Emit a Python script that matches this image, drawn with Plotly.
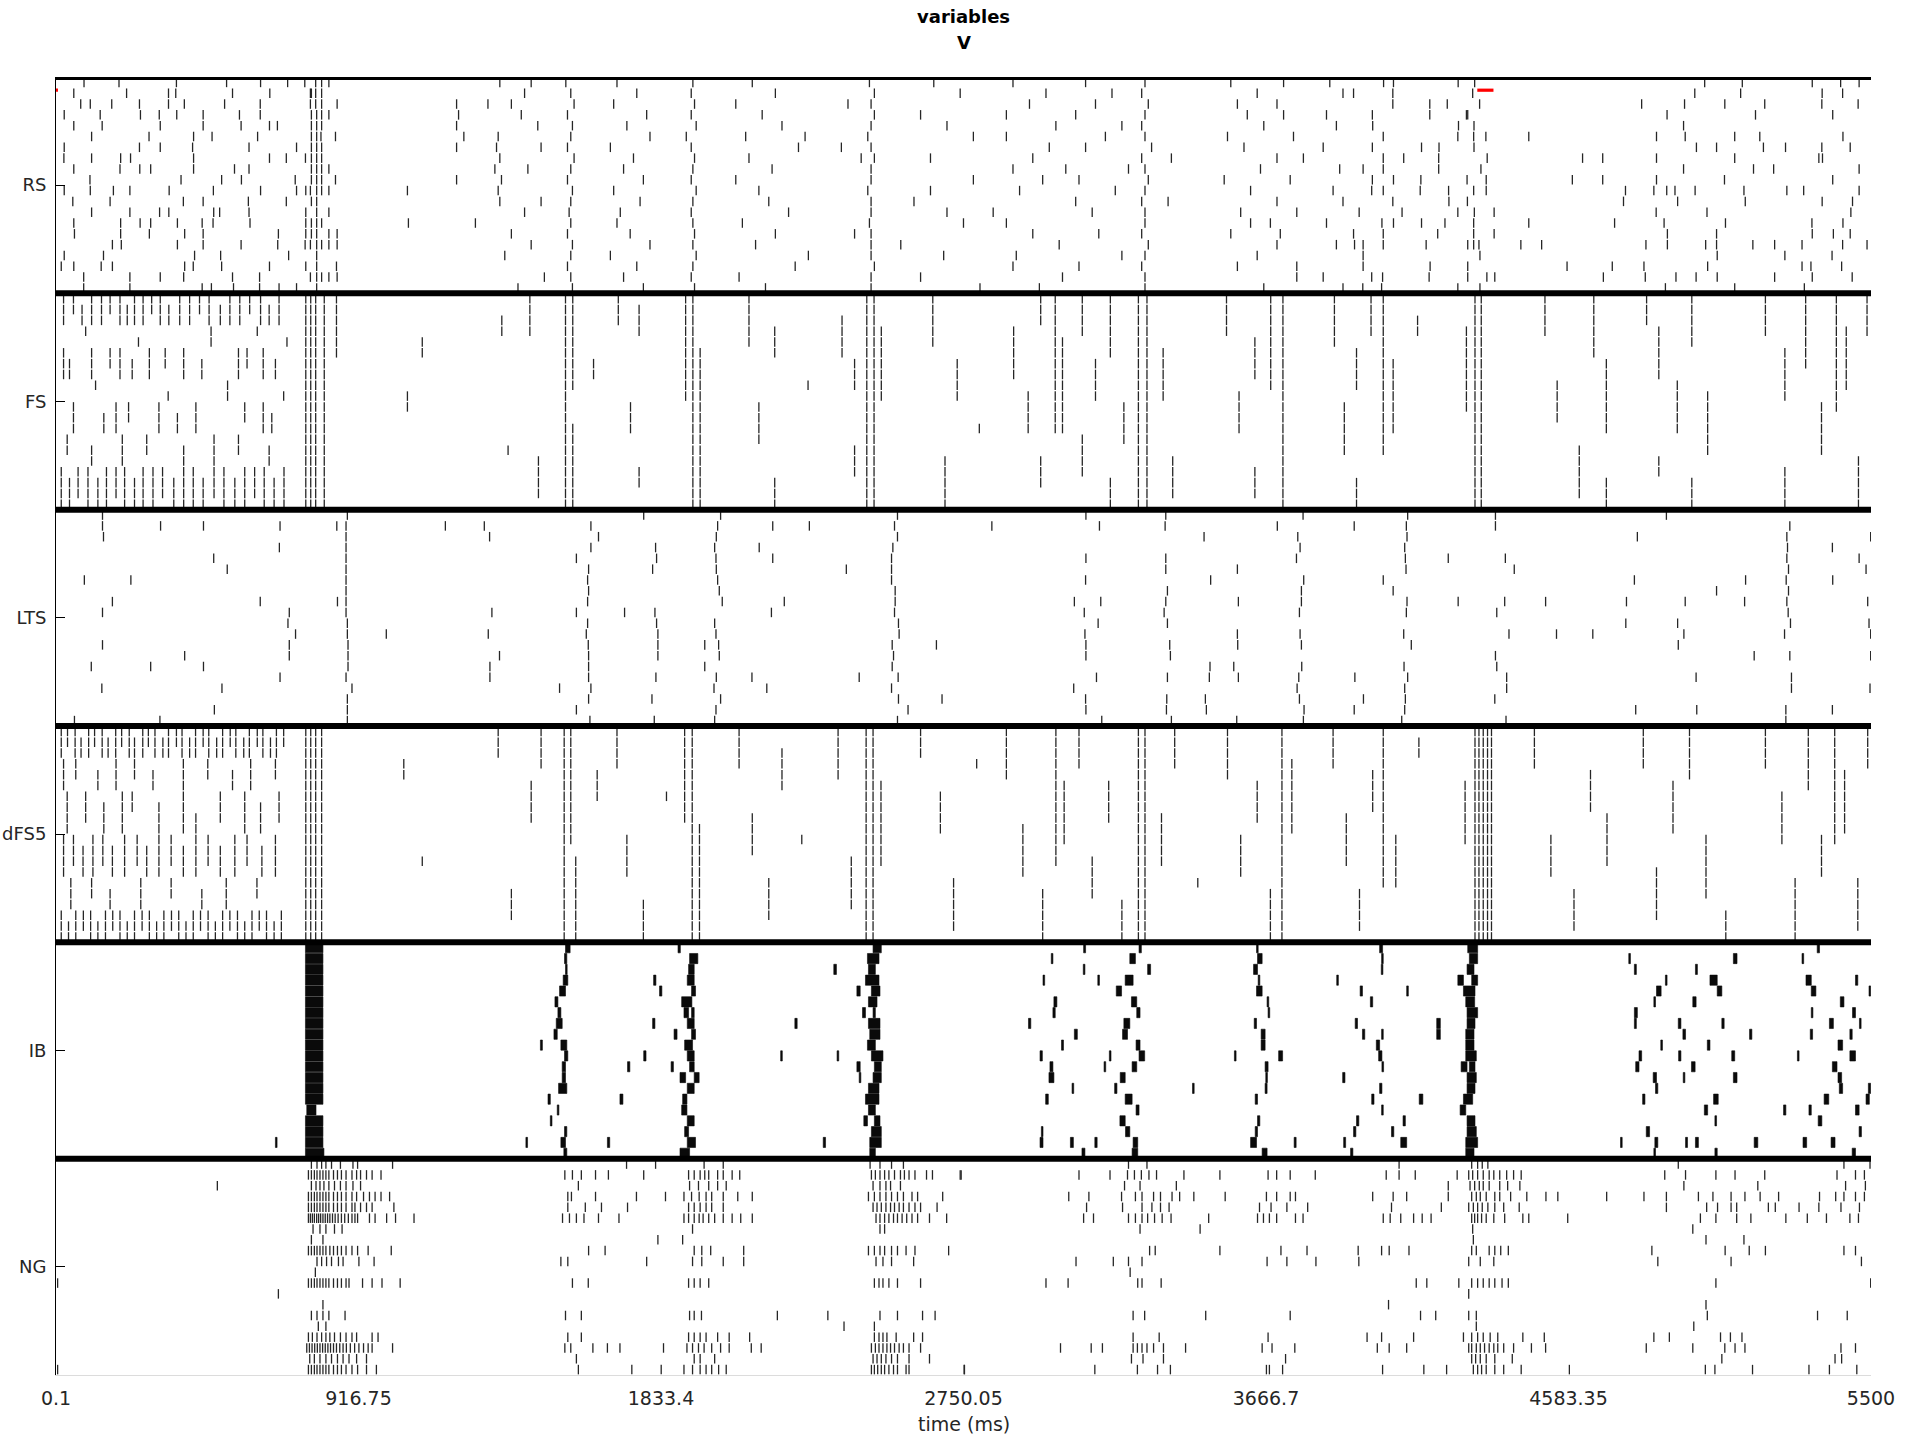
import plotly.graph_objects as go

# ---------------- axis / labels ----------------
t_range = [0.1, 5500]
x_tick_vals = [0.1, 916.75, 1833.4, 2750.05, 3666.7, 4583.35, 5500]
x_tick_text = ["0.1", "916.75", "1833.4", "2750.05", "3666.7", "4583.35", "5500"]
populations = ["RS", "FS", "LTS", "dFS5", "IB", "NG"]
cells_per_population = 20

# ---------------- spike times (ms), one list per cell ----------------
rs_spikes = [
    [85, 191, 365, 517, 620, 702, 754, 787, 805, 827, 1345, 1440, 1545, 1700, 1930, 2110, 2465, 2660, 2900, 3120, 3300, 3560, 3720, 3860, 4023, 4053, 4249, 4299, 4996, 5110, 5322, 5408, 5464],
    [54, 214, 341, 363, 535, 648, 771, 774, 787, 805, 1420, 1560, 1760, 1925, 2180, 2480, 2740, 3000, 3200, 3290, 3640, 3900, 3932, 4051, 4293, 4966, 5105, 5352, 5414],
    [75, 104, 169, 253, 341, 389, 511, 619, 771, 787, 805, 852, 1214, 1309, 1380, 1570, 1690, 1935, 2060, 2400, 2470, 2950, 3150, 3310, 3580, 3700, 4051, 4163, 4216, 4314, 4805, 4935, 5057, 5178, 5351, 5461],
    [25, 134, 256, 313, 366, 446, 556, 619, 774, 790, 805, 827, 1220, 1410, 1550, 1790, 1925, 2140, 2480, 2620, 2880, 3090, 3300, 3610, 3720, 3850, 3989, 4163, 4274, 4278, 4882, 5150, 5384],
    [54, 140, 316, 446, 561, 647, 671, 774, 790, 805, 1214, 1460, 1565, 1730, 1940, 2200, 2470, 2700, 3030, 3230, 3290, 3660, 3880, 3990, 4250, 4297, 4932],
    [108, 282, 417, 473, 611, 774, 790, 803, 847, 1236, 1340, 1560, 1800, 1910, 2090, 2270, 2460, 2780, 2880, 3180, 3300, 3550, 3750, 4022, 4248, 4296, 4333, 4463, 4850, 4937, 5087, 5163, 5415],
    [25, 253, 316, 414, 585, 729, 774, 790, 805, 1214, 1335, 1470, 1550, 1680, 1925, 2250, 2380, 2470, 3010, 3120, 3320, 3600, 3840, 3989, 4138, 4191, 4297, 4971, 5032, 5174, 5241, 5351, 5437],
    [24, 108, 196, 226, 417, 647, 698, 756, 774, 790, 805, 1345, 1570, 1750, 1935, 2100, 2440, 2480, 2650, 2960, 3290, 3380, 3700, 3780, 4022, 4084, 4190, 4337, 4626, 4687, 4850, 5087, 5342, 5353],
    [54, 194, 254, 287, 417, 541, 585, 774, 790, 805, 827, 1330, 1430, 1560, 1720, 1930, 2170, 2470, 2900, 3060, 3250, 3300, 3650, 3890, 3961, 4022, 4190, 4318, 4932, 5144, 5205, 5464],
    [103, 379, 502, 562, 725, 774, 790, 805, 847, 1214, 1350, 1550, 1780, 1925, 2060, 2470, 2780, 2990, 3100, 3310, 3540, 3740, 3989, 4053, 4136, 4276, 4334, 4595, 4687, 4850, 5056, 5384],
    [25, 104, 174, 224, 343, 477, 620, 729, 757, 771, 790, 805, 827, 1065, 1340, 1565, 1690, 1940, 2130, 2460, 2650, 2920, 3210, 3300, 3620, 3870, 3987, 4022, 4134, 4220, 4296, 4334, 4756, 4842, 4881, 4906, 4967, 5115, 5245, 5296, 5464],
    [51, 164, 386, 446, 583, 698, 774, 790, 1345, 1470, 1560, 1770, 1930, 2160, 2470, 2600, 3090, 3290, 3370, 3700, 3900, 4051, 4221, 4277, 4750, 4914, 5119, 5352, 5444],
    [108, 224, 314, 342, 478, 496, 585, 757, 790, 827, 1420, 1555, 1710, 1925, 2220, 2470, 2700, 2840, 3140, 3300, 3590, 3760, 3949, 4079, 4248, 4298, 4358, 4849, 5003, 5439],
    [54, 196, 255, 287, 368, 443, 476, 588, 757, 774, 790, 805, 1068, 1271, 1560, 1700, 1930, 2080, 2465, 2750, 2880, 3300, 3620, 3680, 3850, 4018, 4053, 4138, 4209, 4296, 4463, 4723, 4873, 5059, 5321, 5415],
    [56, 196, 283, 390, 446, 674, 757, 774, 790, 827, 852, 1380, 1550, 1740, 1935, 2180, 2420, 2470, 2960, 3160, 3290, 3560, 3710, 3932, 4022, 4187, 4296, 4358, 4883, 5032, 5322, 5386, 5437],
    [171, 198, 368, 446, 561, 672, 755, 771, 790, 805, 827, 852, 1440, 1565, 1800, 1930, 2120, 2470, 2560, 3040, 3310, 3700, 3880, 3935, 3961, 4022, 4152, 4278, 4296, 4312, 4439, 4502, 4818, 4883, 4999, 5032, 5142, 5208, 5291, 5414, 5488],
    [25, 144, 420, 499, 705, 790, 1360, 1560, 1680, 1940, 2280, 2470, 2690, 2910, 3230, 3300, 3640, 3961, 4315, 5034, 5239, 5382],
    [16, 54, 137, 171, 390, 416, 502, 647, 757, 790, 850, 1550, 1760, 1930, 2240, 2480, 2900, 3100, 3290, 3580, 3760, 3961, 4164, 4278, 4579, 4716, 4812, 5005, 5291, 5318, 5411],
    [84, 224, 316, 387, 535, 617, 771, 790, 805, 827, 852, 1480, 1560, 1720, 1925, 2070, 2470, 2620, 3050, 3300, 3760, 3840, 3987, 4020, 4161, 4278, 4336, 4360, 4689, 4816, 4909, 4970, 5034, 5208, 5322, 5443],
    [84, 224, 443, 471, 538, 617, 676, 729, 790, 1400, 1565, 1780, 1935, 2150, 2470, 2800, 2980, 3300, 3660, 3900, 3960, 4017, 4248, 4315, 4877, 5087, 5298],
]

# FS: volleys [time ms, first cell, last cell] (cells first..last spike together)
fs_early_volleys = [
    [23, 0, 2], [53, 0, 1], [79, 1, 2], [108, 0, 2], [138, 0, 2], [164, 0, 1], [194, 0, 2], [216, 1, 2], [238, 0, 2], [264, 0, 2], [290, 0, 1], [316, 0, 2],
    [342, 1, 2], [375, 0, 2], [405, 0, 2], [435, 0, 1], [464, 0, 2], [498, 1, 2], [527, 0, 2], [557, 0, 2], [587, 0, 1], [620, 0, 2], [646, 1, 2], [676, 0, 2],
    [90, 3, 3], [250, 4, 4], [470, 3, 4], [610, 3, 3], [700, 4, 4],
    [23, 5, 7], [41, 6, 7], [108, 5, 7], [164, 5, 6], [194, 5, 7], [231, 6, 7], [283, 5, 7], [331, 5, 6], [387, 5, 7], [442, 6, 7], [553, 5, 7], [579, 5, 6], [628, 5, 7], [665, 6, 7],
    [120, 8, 8], [340, 9, 9], [520, 8, 9], [690, 9, 9],
    [53, 10, 12], [145, 11, 12], [182, 10, 12], [220, 10, 11], [312, 10, 12], [368, 11, 12], [424, 10, 12], [572, 10, 11], [628, 10, 12], [654, 11, 12],
    [34, 13, 14], [108, 14, 15], [201, 13, 15], [275, 13, 14], [387, 14, 15], [479, 13, 15], [553, 13, 14], [646, 14, 15],
    [16, 16, 19], [41, 17, 19], [67, 16, 18], [97, 16, 19], [127, 17, 19], [153, 16, 19], [182, 16, 18], [208, 16, 19], [238, 17, 19], [264, 16, 19], [294, 16, 19], [323, 16, 18],
    [357, 17, 19], [387, 16, 19], [416, 16, 19], [446, 17, 19], [479, 16, 18], [509, 16, 19], [542, 17, 19], [572, 16, 19], [602, 16, 18], [631, 16, 19], [661, 17, 19], [691, 16, 19],
    [757, 0, 19], [772, 0, 19], [787, 0, 19], [813, 0, 19], [850, 0, 5],
]
fs_late_volleys = [
    [1065, 9, 10], [1110, 4, 5], [1351, 2, 3], [1370, 14, 14], [1436, 0, 3], [1462, 15, 18], [1544, 0, 19], [1566, 0, 8], [1566, 12, 19], [1629, 6, 7],
    [1704, 0, 2], [1741, 10, 12], [1767, 1, 3], [1767, 16, 17], [1908, 0, 9], [1930, 0, 19], [1952, 5, 19], [2100, 0, 4], [2130, 10, 13], [2178, 3, 5],
    [2178, 17, 19], [2279, 8, 8], [2382, 2, 5], [2420, 6, 8], [2420, 14, 16], [2457, 0, 19], [2479, 0, 19], [2501, 3, 9], [2657, 0, 4], [2694, 15, 19],
    [2731, 6, 9], [2798, 12, 12], [2902, 3, 7], [2946, 9, 12], [2984, 0, 2], [2984, 15, 17], [3028, 0, 12], [3050, 4, 12], [3110, 0, 3], [3110, 13, 16],
    [3150, 6, 9], [3195, 0, 5], [3195, 17, 19], [3236, 10, 13], [3280, 0, 19], [3306, 0, 19], [3355, 5, 9], [3384, 15, 18], [3547, 0, 3], [3585, 9, 12],
    [3633, 4, 7], [3633, 16, 18], [3681, 0, 8], [3718, 0, 19], [3874, 0, 4], [3904, 10, 14], [3941, 5, 8], [3941, 17, 19], [3985, 0, 3], [4022, 0, 14],
    [4052, 6, 12], [4126, 2, 3], [4274, 3, 10], [4300, 0, 19], [4319, 0, 19], [4512, 0, 3], [4549, 8, 11], [4616, 14, 18], [4660, 0, 5], [4698, 6, 12],
    [4698, 17, 19], [4820, 0, 2], [4857, 3, 7], [4857, 15, 16], [4913, 8, 12], [4957, 0, 4], [4957, 17, 19], [5005, 9, 14], [5180, 0, 3], [5239, 5, 9],
    [5239, 16, 19], [5302, 0, 6], [5350, 10, 14], [5395, 0, 10], [5425, 3, 8], [5462, 15, 19], [5488, 0, 3],
]

lts_spikes = [
    [141, 883, 1781, 2014, 2550, 3121, 3363, 3779, 4096, 4362, 4880],
    [141, 317, 447, 679, 851, 879, 1180, 1298, 1621, 2005, 2172, 2283, 2541, 2836, 3162, 3361, 3701, 3934, 4092, 4362, 5254],
    [144, 879, 1314, 1644, 2001, 2550, 3479, 3763, 4094, 4792, 5245, 5499],
    [677, 879, 1621, 1817, 1996, 2131, 2536, 3770, 4087, 5247, 5383],
    [478, 879, 1577, 1820, 2000, 2172, 2532, 3121, 3363, 3759, 4089, 4219, 4392, 5245, 5464],
    [519, 879, 1614, 1808, 2001, 2395, 2532, 3363, 3580, 4091, 4419, 5250, 5485],
    [86, 227, 879, 1611, 2005, 2532, 3120, 3499, 3781, 4022, 4783, 5120, 5243, 5384],
    [879, 1614, 2010, 2543, 3368, 3774, 4052, 5032, 5250],
    [171, 619, 853, 879, 1611, 2019, 2207, 2543, 3086, 3166, 3363, 3583, 3774, 4094, 4249, 4390, 4514, 4759, 4937, 5117, 5245, 5490],
    [141, 707, 879, 1321, 1577, 1723, 1815, 2168, 2541, 3116, 3358, 3768, 4092, 4366, 5249],
    [703, 883, 1611, 1820, 1996, 2553, 3158, 3368, 4757, 4914, 5256, 5494],
    [726, 883, 1001, 1310, 1607, 1824, 2000, 2555, 3118, 3580, 3770, 4084, 4403, 4547, 4657, 4933, 5238, 5499],
    [141, 707, 885, 1613, 1824, 1966, 2008, 2534, 2668, 3121, 3375, 3581, 3774, 4107, 4916],
    [390, 707, 885, 1344, 1614, 1824, 2010, 2538, 3121, 3377, 4362, 5146, 5254, 5499],
    [107, 287, 447, 885, 1315, 1614, 1966, 2534, 3497, 3569, 3775, 4085, 4366],
    [679, 879, 1315, 1614, 1818, 2001, 2109, 2434, 2552, 3153, 3368, 3495, 3583, 3766, 3936, 4096, 4396, 4970, 5259],
    [139, 503, 897, 1526, 1621, 1994, 2154, 2532, 3084, 3761, 4087, 4396, 5259, 5497],
    [883, 1614, 1806, 2014, 2553, 2685, 3120, 3366, 3483, 3768, 3962, 4089, 4360],
    [480, 883, 1577, 2000, 2582, 3121, 3365, 3486, 3782, 3934, 4087, 4787, 4972, 5242, 5383],
    [56, 315, 883, 1618, 1813, 1996, 2550, 3169, 3380, 3578, 3780, 4078, 4394, 5242],
]

# dFS5: volleys [time ms, first cell, last cell]
dfs5_early_volleys = [
    [16, 0, 2], [35, 0, 1], [58, 0, 2], [76, 1, 2], [99, 0, 2], [117, 0, 1], [140, 0, 2], [158, 1, 2], [181, 0, 2], [199, 0, 1], [222, 0, 2], [238, 1, 2],
    [263, 0, 2], [280, 0, 1], [300, 0, 2], [324, 1, 2], [341, 0, 2], [365, 0, 1], [382, 0, 2], [405, 1, 2], [423, 0, 2], [446, 0, 1], [463, 0, 2], [487, 1, 2],
    [505, 0, 2], [528, 0, 1], [545, 0, 2], [569, 1, 2], [586, 0, 2], [610, 0, 1], [627, 0, 2], [650, 1, 2], [668, 0, 2], [690, 0, 1],
    [23, 3, 5], [60, 3, 4], [127, 4, 5], [182, 3, 5], [238, 3, 4], [294, 4, 5], [386, 3, 5], [460, 3, 4], [535, 4, 5], [590, 3, 5], [665, 3, 4],
    [34, 6, 9], [90, 6, 8], [145, 7, 9], [201, 6, 9], [231, 6, 7], [312, 7, 9], [386, 6, 9], [424, 8, 9], [498, 6, 8], [572, 6, 9], [620, 7, 9], [676, 6, 8],
    [23, 10, 13], [53, 10, 12], [82, 11, 13], [112, 10, 13], [142, 10, 12], [171, 11, 13], [208, 10, 13], [246, 10, 12], [275, 11, 13], [312, 10, 13],
    [349, 10, 12], [386, 11, 13], [424, 10, 13], [461, 10, 12], [498, 11, 13], [542, 10, 13], [579, 10, 12], [624, 11, 13], [665, 10, 13],
    [45, 14, 16], [108, 14, 15], [164, 15, 16], [257, 14, 16], [349, 14, 15], [442, 15, 16], [516, 14, 16], [609, 14, 15],
    [16, 17, 19], [38, 18, 19], [60, 17, 19], [83, 17, 18], [105, 17, 19], [127, 18, 19], [150, 17, 19], [172, 17, 18], [194, 17, 19], [216, 18, 19],
    [238, 17, 19], [261, 17, 18], [283, 17, 19], [305, 18, 19], [327, 17, 19], [350, 17, 18], [372, 17, 19], [394, 18, 19], [416, 17, 19], [438, 17, 18],
    [461, 17, 19], [483, 18, 19], [505, 17, 19], [527, 17, 18], [550, 17, 19], [572, 18, 19], [594, 17, 19], [616, 17, 18], [638, 17, 19], [661, 18, 19], [683, 17, 19],
    [757, 0, 19], [772, 0, 19], [787, 0, 19], [805, 0, 19],
]
dfs5_late_volleys = [
    [1054, 3, 4], [1110, 12, 12], [1340, 0, 2], [1380, 15, 17], [1440, 5, 8], [1470, 0, 3], [1540, 0, 19], [1560, 0, 10], [1575, 12, 19], [1640, 4, 6],
    [1700, 0, 3], [1730, 10, 13], [1780, 16, 19], [1850, 6, 6], [1905, 0, 8], [1928, 0, 19], [1950, 9, 19], [2070, 0, 3], [2110, 8, 11], [2160, 14, 17],
    [2200, 2, 5], [2260, 10, 10], [2370, 0, 4], [2410, 12, 16], [2455, 0, 19], [2476, 0, 19], [2500, 5, 12], [2620, 0, 2], [2680, 6, 9], [2720, 14, 18],
    [2790, 3, 3], [2880, 0, 4], [2930, 9, 13], [2990, 15, 19], [3030, 0, 12], [3055, 5, 10], [3100, 0, 3], [3140, 12, 15], [3190, 5, 8], [3230, 16, 19],
    [3280, 0, 19], [3300, 0, 19], [3350, 8, 12], [3390, 0, 3], [3460, 14, 14], [3550, 0, 4], [3590, 10, 13], [3640, 5, 8], [3680, 15, 19], [3715, 0, 19],
    [3745, 3, 9], [3870, 0, 3], [3910, 8, 12], [3950, 15, 18], [3990, 4, 7], [4022, 0, 14], [4060, 10, 14], [4130, 1, 2], [4270, 5, 10], [4300, 0, 19],
    [4312, 0, 19], [4325, 0, 19], [4338, 0, 19], [4350, 0, 19], [4480, 0, 3], [4530, 10, 13], [4600, 15, 18], [4650, 4, 7], [4700, 8, 12], [4810, 0, 3],
    [4850, 13, 17], [4900, 5, 9], [4950, 0, 4], [5000, 10, 15], [5060, 17, 19], [5180, 0, 3], [5230, 6, 10], [5270, 14, 19], [5310, 0, 5], [5350, 10, 13],
    [5390, 0, 10], [5420, 4, 9], [5460, 14, 18], [5490, 0, 3],
]

# IB cells fire bursts: [onset, offset] in ms
ib_bursts = [
    [[756, 809], [1544, 1558], [1885, 1892], [2476, 2501], [3114, 3120], [3282, 3289], [3638, 3643], [4011, 4020], [4278, 4308], [5337, 5344]],
    [[756, 809], [1541, 1548], [1920, 1945], [2459, 2494], [3016, 3021], [3254, 3271], [3641, 3655], [4017, 4022], [4283, 4308], [4766, 4771], [5083, 5094], [5291, 5296]],
    [[756, 809], [1544, 1548], [1917, 1934], [2357, 2365], [2462, 2483], [3113, 3118], [3308, 3317], [3629, 3641], [4016, 4020], [4276, 4297], [4783, 4789], [4968, 4974]],
    [[756, 809], [1537, 1551], [1811, 1818], [1913, 1934], [2453, 2494], [2991, 2996], [3157, 3162], [3240, 3264], [3643, 3648], [3881, 3885], [4248, 4265], [4290, 4308], [4877, 4882], [5012, 5034], [5303, 5319], [5453, 5460]],
    [[756, 809], [1526, 1544], [1829, 1836], [1926, 1938], [2427, 2437], [2471, 2497], [3213, 3229], [3638, 3655], [3952, 3959], [4093, 4096], [4265, 4300], [4850, 4864], [5034, 5048], [5319, 5333], [5494, 5499]],
    [[756, 809], [1512, 1521], [1896, 1927], [2462, 2488], [3024, 3033], [3259, 3275], [3670, 3675], [3983, 3990], [4272, 4299], [4842, 4847], [4960, 4970], [5407, 5418]],
    [[756, 809], [1521, 1530], [1903, 1917], [1926, 1934], [2444, 2453], [2476, 2483], [3021, 3028], [3275, 3285], [3673, 3678], [4276, 4308], [4783, 4792], [5319, 5323], [5444, 5453]],
    [[756, 809], [1516, 1534], [1808, 1815], [1913, 1934], [2239, 2246], [2462, 2497], [2947, 2954], [3236, 3254], [3631, 3638], [3937, 3944], [4184, 4195], [4276, 4300], [4783, 4789], [4916, 4924], [5048, 5055], [5374, 5386], [5465, 5470]],
    [[756, 809], [1509, 1519], [1873, 1882], [1926, 1938], [2466, 2497], [3086, 3095], [3232, 3247], [3652, 3664], [3959, 3966], [4017, 4020], [4184, 4195], [4272, 4297], [4930, 4938], [5132, 5139], [5316, 5323], [5436, 5443]],
    [[756, 809], [1468, 1474], [1530, 1548], [1905, 1929], [2459, 2483], [3047, 3053], [3273, 3285], [3652, 3664], [4001, 4011], [4272, 4297], [4863, 4868], [5004, 5012], [5400, 5414]],
    [[756, 809], [1541, 1551], [1781, 1788], [1913, 1934], [2196, 2200], [2367, 2371], [2471, 2506], [2982, 2989], [3192, 3197], [3282, 3299], [3571, 3576], [3705, 3717], [4008, 4018], [4272, 4304], [4797, 4805], [4917, 4924], [5078, 5087], [5277, 5282], [5436, 5453]],
    [[756, 809], [1534, 1544], [1732, 1739], [1864, 1871], [1920, 1934], [2427, 2437], [2480, 2501], [3012, 3021], [3176, 3180], [3261, 3275], [3664, 3673], [4018, 4022], [4258, 4276], [4283, 4300], [4787, 4797], [4956, 4967], [5383, 5397]],
    [[756, 809], [1534, 1544], [1891, 1908], [1934, 1949], [2434, 2438], [2476, 2501], [3009, 3024], [3225, 3240], [3666, 3670], [3899, 3906], [4276, 4304], [4840, 4850], [4931, 4935], [5083, 5094], [5400, 5411]],
    [[756, 809], [1523, 1548], [1913, 1934], [2462, 2494], [3079, 3084], [3208, 3215], [3444, 3449], [3664, 3670], [4011, 4018], [4276, 4300], [4847, 4854], [5404, 5414], [5492, 5499]],
    [[756, 809], [1491, 1498], [1709, 1718], [1899, 1912], [2453, 2494], [2999, 3007], [3240, 3261], [3634, 3641], [3987, 3994], [4131, 4142], [4265, 4293], [4808, 4815], [5023, 5037], [5358, 5372], [5485, 5495]],
    [[760, 788], [1519, 1523], [1896, 1912], [2462, 2483], [3273, 3282], [4017, 4022], [4255, 4272], [4995, 5005], [5235, 5242], [5312, 5319], [5453, 5464]],
    [[756, 809], [1498, 1502], [1913, 1934], [2448, 2459], [2480, 2497], [3224, 3240], [3641, 3648], [3941, 3948], [4082, 4089], [4276, 4300], [5027, 5030], [5340, 5351]],
    [[756, 809], [1541, 1548], [1905, 1917], [2471, 2501], [2986, 2991], [3241, 3254], [3634, 3641], [3932, 3939], [4047, 4054], [4276, 4304], [4819, 4829], [5464, 5471]],
    [[665, 670], [756, 809], [1424, 1428], [1530, 1544], [1671, 1678], [1913, 1938], [2325, 2332], [2466, 2501], [2982, 2991], [3074, 3083], [3148, 3155], [3264, 3278], [3620, 3638], [3752, 3758], [3902, 3908], [4075, 4093], [4272, 4308], [4741, 4745], [4845, 4854], [4938, 4944], [4968, 4977], [5146, 5157], [5294, 5305], [5379, 5391]],
    [[756, 812], [1539, 1548], [1891, 1920], [2466, 2483], [3109, 3118], [3261, 3278], [3655, 3670], [3923, 3930], [4272, 4297], [4842, 4847], [5027, 5034], [5443, 5453]],
]

ng_spikes = [
    [774, 791, 805, 818, 835, 862, 900, 914, 1020, 1729, 1817, 1964, 2022, 2467, 2497, 2532, 2568, 3250, 3306, 4070, 4290, 4308, 4322, 4339, 4916, 5418, 5497],
    [765, 774, 783, 791, 800, 809, 818, 827, 841, 853, 865, 879, 897, 911, 923, 941, 958, 985, 1542, 1565, 1592, 1635, 1674, 1781, 1917, 1934, 1952, 1966, 1978, 2005, 2022, 2049, 2072, 2471, 2483, 2497, 2511, 2524, 2541, 2559, 2571, 2585, 2603, 2638, 2656, 2740, 2743, 3100, 3194, 3247, 3268, 3289, 3312, 3335, 3418, 3527, 3673, 3699, 3740, 3816, 4031, 4070, 4119, 4246, 4281, 4293, 4308, 4325, 4343, 4357, 4375, 4396, 4417, 4440, 4875, 4938, 5030, 5088, 5178, 5397, 5453, 5480],
    [489, 774, 788, 800, 812, 827, 844, 862, 879, 900, 923, 1583, 1920, 1947, 1978, 2005, 2031, 2476, 2497, 2515, 2529, 2559, 3238, 3285, 3395, 4219, 4285, 4299, 4313, 4325, 4343, 4375, 4399, 4436, 4933, 5157, 5423, 5483],
    [765, 774, 783, 791, 800, 809, 818, 827, 841, 853, 865, 879, 897, 911, 932, 950, 967, 985, 1011, 1551, 1562, 1635, 1759, 1847, 1903, 1926, 1949, 1970, 1987, 2022, 2066, 2110, 2462, 2480, 2497, 2515, 2532, 2550, 2568, 2594, 2611, 2687, 3069, 3130, 3229, 3271, 3291, 3326, 3347, 3382, 3405, 3448, 3543, 3668, 3699, 3740, 3756, 3990, 4052, 4093, 4219, 4290, 4304, 4316, 4334, 4360, 4375, 4408, 4457, 4515, 4551, 4699, 4812, 4880, 4977, 5021, 5076, 5118, 5164, 5220, 5344, 5393, 5418, 5453, 5480],
    [765, 774, 783, 791, 800, 809, 818, 827, 841, 853, 865, 879, 897, 906, 923, 941, 958, 1024, 1551, 1604, 1653, 1732, 1917, 1934, 1952, 1970, 1987, 2022, 2476, 2488, 2501, 2515, 2529, 2541, 2555, 2568, 2585, 2603, 2620, 2670, 3123, 3232, 3291, 3321, 3347, 3373, 3647, 3682, 3730, 3793, 4047, 4198, 4281, 4295, 4308, 4322, 4339, 4360, 4387, 4434, 4880, 5002, 5035, 5076, 5093, 5189, 5210, 5282, 5342, 5409, 5465],
    [765, 771, 777, 783, 790, 796, 802, 809, 816, 823, 830, 838, 846, 855, 865, 875, 886, 897, 906, 914, 950, 967, 1002, 1029, 1085, 1535, 1556, 1577, 1600, 1644, 1706, 1903, 1917, 1934, 1949, 1961, 1978, 1996, 2022, 2049, 2075, 2110, 2485, 2497, 2511, 2524, 2538, 2550, 2564, 2578, 2594, 2611, 2647, 2699, 3114, 3144, 3250, 3271, 3291, 3308, 3329, 3352, 3379, 3493, 3641, 3659, 3677, 3699, 3756, 3779, 4022, 4043, 4075, 4114, 4140, 4167, 4290, 4299, 4308, 4320, 4334, 4357, 4390, 4445, 4463, 4581, 4983, 5030, 5093, 5136, 5242, 5307, 5365, 5436, 5462],
    [779, 800, 818, 844, 867, 1929, 2497, 2511, 3285, 3467, 4293, 4960],
    [774, 809, 1824, 1899, 4295, 5000, 5115],
    [765, 774, 783, 791, 800, 809, 818, 830, 841, 853, 865, 879, 897, 914, 946, 1016, 1614, 1664, 1934, 1957, 1984, 2084, 2462, 2480, 2497, 2511, 2532, 2550, 2576, 2603, 2705, 3314, 3331, 3527, 3712, 3791, 3946, 4017, 4040, 4100, 4290, 4304, 4343, 4360, 4378, 4401, 4836, 5058, 5131, 5180, 5418, 5453],
    [791, 805, 820, 835, 856, 870, 918, 964, 1530, 1551, 1790, 1929, 1957, 2022, 2084, 2485, 2506, 2532, 2599, 3091, 3204, 3250, 3291, 3670, 3730, 3818, 3948, 4281, 4316, 4357, 4854, 5076, 5471],
    [786, 3255],
    [5, 765, 774, 783, 791, 800, 809, 818, 827, 841, 853, 865, 879, 888, 929, 958, 988, 1043, 1565, 1613, 1917, 1934, 1952, 1978, 2480, 2494, 2506, 2524, 2550, 2620, 3000, 3067, 3278, 3291, 3349, 4122, 4154, 4251, 4290, 4308, 4325, 4343, 4360, 4382, 4401, 5030, 5499],
    [674, 4281],
    [809, 4038, 5000],
    [774, 791, 809, 827, 876, 1544, 1592, 1920, 1934, 1956, 2186, 2339, 2497, 2550, 2626, 2664, 3264, 3299, 3484, 3740, 4135, 4181, 4281, 4304, 5004, 5338, 5428],
    [795, 818, 2388, 2480, 4304, 4963],
    [765, 777, 791, 805, 818, 830, 844, 862, 879, 897, 911, 958, 976, 1551, 1592, 1917, 1934, 1952, 1970, 2005, 2040, 2102, 2480, 2494, 2506, 2518, 2546, 2599, 2626, 3264, 3343, 3673, 3973, 4017, 4114, 4265, 4290, 4308, 4325, 4346, 4369, 4445, 4510, 4842, 4889, 5044, 5074, 5109],
    [760, 768, 776, 784, 792, 800, 808, 816, 824, 832, 841, 850, 860, 870, 880, 892, 905, 918, 932, 946, 958, 1020, 1542, 1560, 1627, 1671, 1709, 1841, 1912, 1929, 1947, 1964, 1987, 2014, 2040, 2107, 2137, 2471, 2483, 2494, 2506, 2518, 2529, 2541, 2555, 2568, 2585, 2620, 3044, 3137, 3171, 3264, 3277, 3291, 3306, 3326, 3356, 3423, 3655, 3685, 3754, 4004, 4040, 4093, 4281, 4290, 4304, 4316, 4329, 4343, 4357, 4369, 4387, 4417, 4471, 4514, 4819, 4960, 5057, 5088, 5118, 5409, 5453],
    [769, 783, 800, 818, 835, 853, 870, 888, 911, 941, 1577, 1934, 1952, 1996, 2476, 2488, 2501, 2515, 2532, 2550, 2585, 2647, 3259, 3294, 3356, 3726, 4290, 4302, 4316, 4334, 4360, 4413, 5048, 5391, 5411],
    [5, 765, 774, 783, 791, 800, 809, 818, 827, 841, 853, 865, 879, 897, 914, 941, 971, 1583, 1745, 1834, 1903, 1929, 1952, 1970, 1987, 2008, 2031, 2471, 2480, 2490, 2501, 2511, 2524, 2538, 2550, 2576, 2585, 2752, 2753, 3148, 3277, 3338, 3377, 3668, 3677, 3717, 4020, 4145, 4214, 4295, 4308, 4320, 4334, 4360, 4387, 4440, 4586, 4998, 5027, 5141, 5312, 5374, 5457],
]

# red (out-of-range) marks in RS cell 2: [start, end] ms
red_marks = [[0.1, 6], [4307, 4356]]
red_cell = 1

# ---------------- build figure ----------------
fig = go.Figure()


def add_spike(xs, ys, row, t):
    xs += [t, t, None]
    ys += [row + 0.06, row + 0.94, None]


def cell_segments(pop_index, spikes):
    xs, ys = [], []
    base = pop_index * cells_per_population
    for n, times in enumerate(spikes):
        for t in times:
            add_spike(xs, ys, base + n, t)
    return xs, ys


def volley_segments(pop_index, *volley_tables):
    xs, ys = [], []
    base = pop_index * cells_per_population
    for table in volley_tables:
        for t, a, b in table:
            for n in range(a, b + 1):
                add_spike(xs, ys, base + n, t)
    return xs, ys


segments = [
    cell_segments(0, rs_spikes),
    volley_segments(1, fs_early_volleys, fs_late_volleys),
    cell_segments(2, lts_spikes),
    volley_segments(3, dfs5_early_volleys, dfs5_late_volleys),
    cell_segments(5, ng_spikes),
]
for xs, ys in segments:
    fig.add_trace(go.Scatter(x=xs, y=ys, mode="lines",
                             line=dict(color="#262626", width=1.3),
                             hoverinfo="skip", showlegend=False))

# IB bursts as filled blocks
bx, by = [], []
for n, bursts in enumerate(ib_bursts):
    row = 4 * cells_per_population + n
    for on, off in bursts:
        off = max(off, on + 5)
        bx += [on, off, off, on, on, None]
        by += [row + 0.03, row + 0.03, row + 0.97, row + 0.97, row + 0.03, None]
fig.add_trace(go.Scatter(x=bx, y=by, mode="lines", fill="toself",
                         fillcolor="#0a0a0a", line=dict(color="#0a0a0a", width=0.6),
                         hoverinfo="skip", showlegend=False))

# red marks
rx, ry = [], []
for a, b in red_marks:
    rx += [a, b, None]
    ry += [red_cell + 0.22, red_cell + 0.22, None]
fig.add_trace(go.Scatter(x=rx, y=ry, mode="lines", line=dict(color="#ff0000", width=3.2),
                         hoverinfo="skip", showlegend=False))

# thick population separators
for k in range(len(populations)):
    fig.add_shape(type="line", xref="paper", yref="y", x0=0, x1=1,
                  y0=k * cells_per_population, y1=k * cells_per_population,
                  line=dict(color="black", width=6), layer="above")

n_rows = cells_per_population * len(populations)
fig.update_layout(
    width=1920, height=1440,
    margin=dict(l=56, r=49, t=77, b=65),
    paper_bgcolor="white", plot_bgcolor="white",
    font=dict(family="DejaVu Sans", color="#262626"),
    xaxis=dict(range=t_range, tickvals=x_tick_vals, ticktext=x_tick_text,
               showgrid=False, zeroline=False, showline=True, linecolor="#dcdcdc",
               linewidth=1, ticks="", tickfont=dict(size=19), automargin=False,
               ticklabelstandoff=6),
    yaxis=dict(range=[n_rows, 0], showgrid=False, zeroline=False, showline=True,
               linecolor="black", linewidth=1, automargin=False,
               tickvals=[(k + 0.5) * cells_per_population for k in range(len(populations))],
               ticktext=populations, ticks="inside", ticklen=9, tickcolor="black",
               ticklabelstandoff=5,
               tickfont=dict(size=18, color="#262626")),
    annotations=[
        dict(text="<b>variables</b>", x=0.5, xref="paper", y=(1375 - 16) / 1298, yref="paper",
             showarrow=False, xanchor="center", yanchor="middle", font=dict(size=18, color="black")),
        dict(text="<b>V</b>", x=0.5, xref="paper", y=(1375 - 42) / 1298, yref="paper",
             showarrow=False, xanchor="center", yanchor="middle", font=dict(size=18, color="black")),
        dict(text="time (ms)", x=0.5, xref="paper", y=(1375 - 1424) / 1298, yref="paper",
             showarrow=False, xanchor="center", yanchor="middle", font=dict(size=19, color="#262626")),
    ],
)

fig.write_html("out.html")
